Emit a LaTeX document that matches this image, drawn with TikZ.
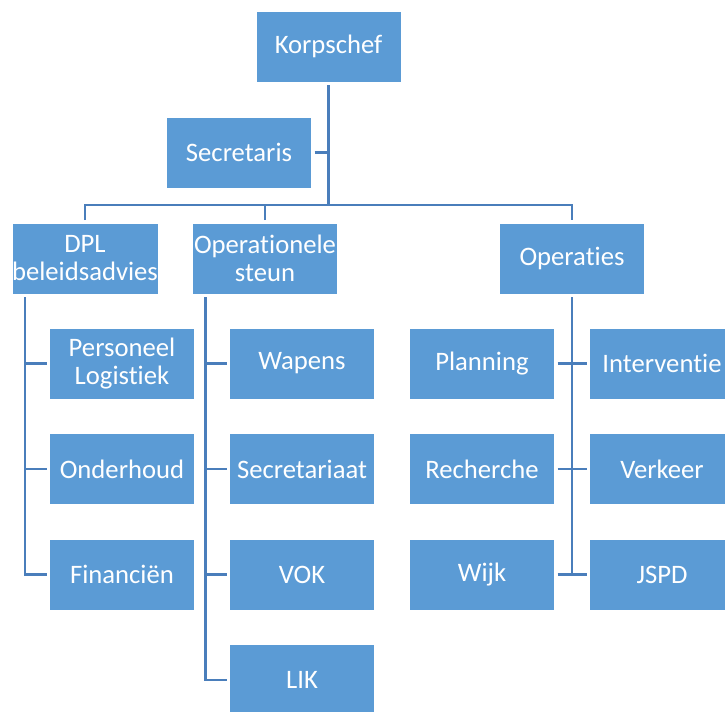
\documentclass[tikz,border=0pt]{standalone}
\usepackage{fontspec}
\setmainfont{Carlito}[Ligatures={NoCommon,NoContextual}]
\usetikzlibrary{calc}
\definecolor{boxblue}{HTML}{5B9BD5}
\definecolor{lineblue}{HTML}{4A7EBB}
\tikzset{
	unit/.style={rectangle, fill=boxblue, draw=white, line width=0.4pt, text=white,
		minimum width=108.75pt, minimum height=53.25pt, inner sep=0pt, outer sep=2.25pt,
		align=center, font=\fontsize{20}{21}\selectfont},
	link/.style={draw=lineblue, line width=2pt}
}
\begin{document}
\begin{tikzpicture}[x=0.75pt,y=-0.75pt]
\useasboundingbox (0,0) rectangle (725,711);

\node[unit] (chef) at (328.5,46.5) {Korpschef};
\node[unit] (secr) at (239,152.5) {Secretaris};
\node[unit] (dpl) at (85,258.5) {DPL\\beleidsadvies};
\node[unit] (ops) at (265,258.5) {Operationele\\steun};
\node[unit] (oper) at (572,258.5) {Operaties};
\coordinate (bus) at (328.5,205);

%% Afdelingen %%
\foreach \name/\txt [count=\i] in {pl/{Personeel\\Logistiek}, ond/Onderhoud, fin/{Financiën}}
{
	\pgfmathsetmacro\yy{363.5+105.5*(\i-1)}
	\node[unit] (\name) at (122,\yy) {\txt};
}
\foreach \name/\txt [count=\i] in {wap/Wapens, sect/Secretariaat, vok/VOK, lik/LIK}
{
	\pgfmathsetmacro\yy{363.5+105.5*(\i-1)}
	\node[unit] (\name) at (302,\yy) {\txt};
}
\foreach \lname/\ltxt/\rname/\rtxt [count=\i] in {plan/Planning/inter/Interventie, rech/Recherche/verk/Verkeer, wijk/Wijk/jspd/JSPD}
{
	\pgfmathsetmacro\yy{363.5+105.5*(\i-1)}
	\node[unit] (\lname) at (482,\yy) {\ltxt};
	\node[unit] (\rname) at (662,\yy) {\rtxt};
}

%% Verbindingen %%
\draw[link] (chef.south) -- (bus);
\draw[link] (secr.east) -- (secr.east -| bus);
\draw[link] (dpl.north) |- (bus) -| (oper.north);
\draw[link] (ops.north) -- (ops.north |- bus);

\coordinate (dplspine) at ($(dpl.south west)+(16,0)$);
\draw[link] (dplspine) |- (fin.west);
\foreach \n in {pl,ond}
	\draw[link] (\n.west) -- (\n.west -| dplspine);

\coordinate (opsspine) at ($(ops.south west)+(16,0)$);
\draw[link] (opsspine) |- (lik.west);
\foreach \n in {wap,sect,vok}
	\draw[link] (\n.west) -- (\n.west -| opsspine);

\draw[link] (oper.south) -- (oper.south |- wijk.east);
\draw[link] (plan.east) -- (inter.west)
	(rech.east) -- (verk.west)
	(wijk.east) -- (jspd.west);
\end{tikzpicture}
\end{document}
